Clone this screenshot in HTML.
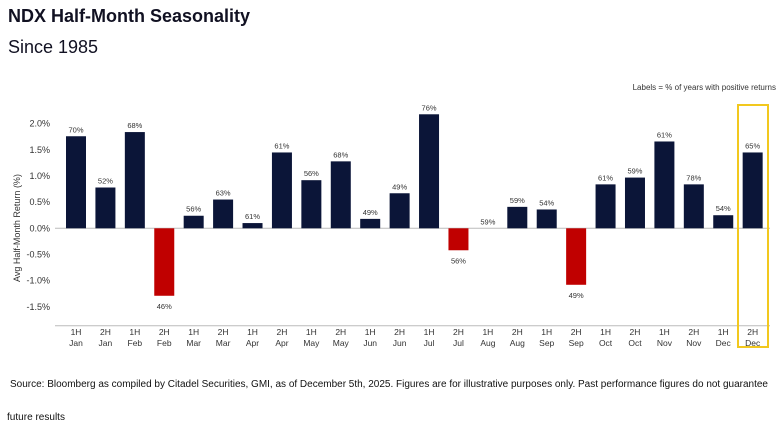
<!DOCTYPE html>
<html><head><meta charset="utf-8"><style>
html,body{margin:0;padding:0;background:#fff;width:784px;height:430px;overflow:hidden}
svg{display:block;font-family:"Liberation Sans",sans-serif}
</style></head><body>
<svg id="chart" width="784" height="430" viewBox="0 0 784 430">
<text x="8" y="22" font-size="18" font-weight="bold" fill="#111122">NDX Half-Month Seasonality</text>
<text x="8" y="53" font-size="18" fill="#111122">Since 1985</text>
<text x="776" y="90" font-size="8" fill="#333" text-anchor="end">Labels = % of years with positive returns</text>
<text transform="translate(20,228) rotate(-90)" font-size="9" fill="#333" text-anchor="middle">Avg Half-Month Return (%)</text>
<g id="yaxis"></g>
<g id="bars"></g>
<g id="xaxis"></g>
<rect x="738" y="105" width="30" height="242" fill="none" stroke="#f2c81e" stroke-width="2"/>
<text x="10" y="387" font-size="10" fill="#111" textLength="758" lengthAdjust="spacingAndGlyphs">Source: Bloomberg as compiled by Citadel Securities, GMI, as of December 5th, 2025. Figures are for illustrative purposes only. Past performance figures do not guarantee</text>
<text x="7" y="420" font-size="10" fill="#111" textLength="58" lengthAdjust="spacingAndGlyphs">future results</text>
</svg>
<script>
const halves = ["1H","2H","1H","2H","1H","2H","1H","2H","1H","2H","1H","2H","1H","2H","1H","2H","1H","2H","1H","2H","1H","2H","1H","2H"];
const months = ["Jan","Jan","Feb","Feb","Mar","Mar","Apr","Apr","May","May","Jun","Jun","Jul","Jul","Aug","Aug","Sep","Sep","Oct","Oct","Nov","Nov","Dec","Dec"];
const returns = [1.76,0.78,1.84,-1.29,0.24,0.55,0.10,1.45,0.92,1.28,0.18,0.67,2.18,-0.42,0.0,0.41,0.36,-1.08,0.84,0.97,1.66,0.84,0.25,1.45];
const posPct = ["70%","52%","68%","46%","56%","63%","61%","61%","56%","68%","49%","49%","76%","56%","59%","59%","54%","49%","61%","59%","61%","78%","54%","65%"];
const yTicks = [2.0,1.5,1.0,0.5,0.0,-0.5,-1.0,-1.5];
const NS="http://www.w3.org/2000/svg";
const y = v => 228.3 - v*52.3;
const x = i => 76 + i*29.42;
const bw = 20;
function mk(tag, attrs, parent){const e=document.createElementNS(NS,tag);for(const k in attrs)e.setAttribute(k,attrs[k]);parent.appendChild(e);return e;}
const ya=document.getElementById('yaxis'), bg=document.getElementById('bars'), xa=document.getElementById('xaxis');
yTicks.forEach(t=>{
  const tx=mk('text',{x:50,y:y(t)+3,'font-size':9,fill:'#333','text-anchor':'end'},ya);
  tx.textContent=t.toFixed(1)+'%';
  
  
});
const zl=mk('line',{x1:55,x2:770,y1:y(0),y2:y(0),stroke:'#bbb','stroke-width':1},ya);


const bl=mk('line',{x1:55,x2:770,y1:325.7,y2:325.7,stroke:'#bbb','stroke-width':1},xa);


returns.forEach((v,i)=>{
  const top=Math.min(y(v),y(0)), h=Math.abs(y(v)-y(0));
  const r=mk('rect',{x:x(i)-bw/2,y:top,width:bw,height:h,fill:v<0?'#c00000':'#0b1538'},bg);
  
  
  const ly = v<0 ? y(v)+13 : y(v)-4;
  const lb=mk('text',{x:x(i),y:ly,'font-size':7.5,fill:'#333','text-anchor':'middle'},bg);
  lb.textContent=posPct[i];
  
  
  const t1=mk('text',{x:x(i),y:335,'font-size':8.5,fill:'#333','text-anchor':'middle'},xa);
  t1.textContent=halves[i];
  
  
  const t2=mk('text',{x:x(i),y:346,'font-size':8.5,fill:'#333','text-anchor':'middle'},xa);
  t2.textContent=months[i];
  
  
});
</script>
</body></html>
